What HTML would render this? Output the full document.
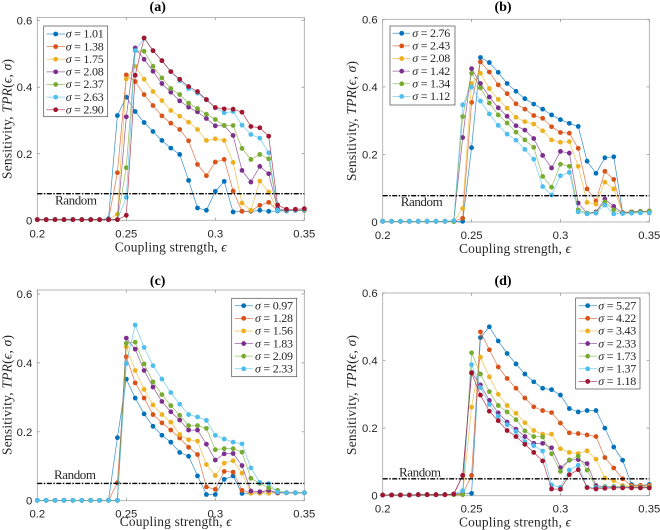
<!DOCTYPE html>
<html><head><meta charset="utf-8"><title>Sensitivity vs coupling strength</title>
<style>
html,body{margin:0;padding:0;background:#fff}
svg{display:block;filter:blur(0.35px)}
.tick{font:11.3px "Liberation Sans",sans-serif;fill:#262626}
.ser{font-family:"Liberation Serif",serif;fill:#262626}
</style></head>
<body>
<svg id="fig" xmlns="http://www.w3.org/2000/svg" width="660" height="530" viewBox="0 0 660 530"></svg>
<script>
const epsilon=[0.2,0.205,0.21,0.215,0.22,0.225,0.23,0.235,0.24,0.245,0.25,0.255,0.26,0.265,0.27,0.275,0.28,0.285,0.29,0.295,0.3,0.305,0.31,0.315,0.32,0.325,0.33,0.335,0.34,0.345,0.35];
const xTickValues=[0.2,0.25,0.3,0.35];
const xTickLabels=["0.2","0.25","0.3","0.35"];
const yTickValues=[0,0.2,0.4,0.6];
const yTickLabels=["0","0.2","0.4","0.6"];

const sigmaA=["1.01","1.38","1.75","2.08","2.37","2.63","2.90"];
const tprA1=[.002,.002,.002,.002,.002,.002,.002,.002,.005,.315,.37,.327,.294,.267,.24,.217,.198,.12,.037,.03,.087,.117,.025,.027,.027,.03,.027,.028,.028,.03,.03];
const tprA2=[.002,.002,.002,.002,.002,.002,.002,.002,.002,.143,.437,.417,.378,.345,.314,.292,.273,.239,.168,.134,.175,.183,.088,.027,.028,.045,.054,.03,.03,.03,.03];
const tprA3=[.002,.002,.002,.002,.002,.002,.002,.002,.002,.018,.425,.463,.424,.387,.36,.33,.313,.295,.273,.24,.245,.24,.174,.052,.03,.118,.085,.03,.03,.03,.03];
const tprA4=[.002,.002,.002,.002,.002,.002,.002,.002,.002,.002,.311,.518,.484,.448,.411,.385,.359,.34,.326,.306,.284,.285,.255,.15,.115,.162,.14,.035,.03,.03,.03];
const tprA5=[.002,.002,.002,.002,.002,.002,.002,.002,.002,.002,.158,.51,.508,.463,.428,.396,.378,.352,.336,.319,.303,.285,.285,.216,.183,.198,.185,.03,.03,.03,.03];
const tprA6=[.002,.002,.002,.002,.002,.002,.002,.002,.002,.002,.069,.51,.548,.51,.48,.447,.42,.396,.382,.362,.338,.323,.327,.286,.258,.247,.203,.03,.03,.03,.032];
const tprA7=[.002,.002,.002,.002,.002,.002,.002,.002,.002,.002,.015,.436,.548,.51,.48,.447,.424,.402,.387,.363,.339,.335,.334,.325,.282,.278,.253,.046,.033,.033,.035];

const sigmaB=["2.76","2.43","2.08","1.42","1.34","1.12"];
const tprB1=[.002,.002,.002,.002,.002,.002,.002,.002,.002,.002,.22,.487,.472,.443,.41,.387,.365,.349,.334,.317,.303,.292,.283,.18,.144,.19,.193,.028,.03,.031,.032];
const tprB2=[.002,.002,.002,.002,.002,.002,.002,.002,.002,.011,.354,.474,.444,.406,.38,.35,.334,.315,.307,.282,.265,.263,.218,.098,.062,.15,.126,.028,.03,.031,.032];
const tprB3=[.002,.002,.002,.002,.002,.002,.002,.002,.002,.04,.41,.44,.395,.363,.337,.31,.297,.29,.27,.243,.236,.238,.165,.058,.053,.118,.098,.028,.03,.031,.032];
const tprB4=[.002,.002,.002,.002,.002,.002,.002,.002,.003,.25,.454,.41,.37,.338,.313,.285,.272,.247,.197,.16,.209,.204,.056,.026,.03,.068,.046,.027,.029,.031,.032];
const tprB5=[.002,.002,.002,.002,.002,.002,.002,.002,.001,.312,.44,.397,.352,.317,.293,.266,.243,.221,.135,.103,.171,.165,.036,.026,.028,.06,.036,.026,.028,.03,.032];
const tprB6=[.002,.002,.002,.002,.002,.002,.002,.002,.004,.347,.4,.358,.32,.286,.26,.242,.215,.186,.105,.08,.137,.147,.03,.024,.026,.05,.024,.025,.026,.027,.027];

const sigmaC=["0.97","1.28","1.56","1.83","2.09","2.33"];
const tprC1=[.001,.001,.001,.001,.001,.001,.001,.001,.001,.183,.353,.298,.252,.216,.19,.17,.14,.129,.072,.018,.018,.062,.072,.021,.022,.022,.022,.023,.023,.023,.023];
const tprC2=[.001,.001,.001,.001,.001,.001,.001,.001,.001,.052,.418,.342,.298,.25,.226,.205,.182,.155,.134,.04,.033,.085,.083,.03,.022,.023,.03,.022,.023,.023,.023];
const tprC3=[.001,.001,.001,.001,.001,.001,.001,.001,.001,.001,.447,.378,.323,.278,.25,.228,.192,.177,.173,.105,.073,.109,.116,.08,.022,.022,.022,.022,.023,.023,.023];
const tprC4=[.001,.001,.001,.001,.001,.001,.001,.001,.001,.001,.472,.44,.378,.33,.288,.258,.234,.205,.205,.164,.118,.136,.137,.102,.028,.026,.03,.023,.023,.023,.023];
const tprC5=[.001,.001,.001,.001,.001,.001,.001,.001,.001,.001,.457,.46,.397,.345,.308,.276,.248,.218,.218,.21,.148,.151,.151,.141,.065,.05,.037,.03,.023,.023,.023];
const tprC6=[.001,.001,.001,.001,.001,.001,.001,.001,.001,.001,.398,.51,.445,.392,.353,.314,.28,.25,.243,.233,.19,.179,.17,.165,.095,.053,.05,.025,.023,.023,.023];

const sigmaD=["5.27","4.22","3.43","2.33","1.73","1.37","1.18"];
const tprD1=[.002,.002,.002,.002,.003,.003,.003,.003,.005,.007,.007,.468,.5,.458,.421,.39,.36,.337,.318,.314,.298,.258,.248,.252,.252,.2,.144,.105,.033,.03,.033];
const tprD2=[.002,.002,.002,.002,.003,.003,.003,.003,.004,.005,.06,.485,.432,.381,.347,.318,.289,.263,.252,.246,.215,.186,.184,.18,.175,.113,.082,.05,.03,.03,.03];
const tprD3=[.002,.002,.002,.002,.003,.003,.003,.003,.003,.003,.262,.41,.352,.3,.267,.244,.216,.193,.182,.182,.139,.128,.125,.133,.108,.052,.045,.03,.027,.027,.027];
const tprD4=[.002,.002,.002,.002,.003,.003,.003,.003,.005,.06,.365,.328,.282,.245,.218,.197,.175,.155,.155,.142,.083,.105,.107,.095,.03,.026,.026,.026,.025,.025,.025];
const tprD5=[.002,.002,.002,.002,.003,.003,.003,.003,.003,.003,.423,.36,.308,.267,.248,.225,.192,.175,.174,.124,.072,.106,.117,.076,.024,.027,.027,.026,.025,.025,.025];
const tprD6=[.002,.002,.002,.002,.003,.003,.003,.003,.005,.015,.388,.32,.27,.235,.21,.19,.16,.148,.132,.032,.025,.076,.09,.025,.024,.025,.025,.025,.024,.024,.024];
const tprD7=[.002,.002,.002,.002,.003,.003,.003,.003,.005,.06,.363,.298,.25,.222,.193,.175,.152,.128,.103,.02,.019,.062,.077,.024,.02,.022,.023,.023,.023,.023,.023];

const randomLevels=[0.08,0.078,0.05,0.05];
const panelTitles=["(a)","(b)","(c)","(d)"];
const colors=["#0072BD","#D95319","#EDB120","#7E2F8E","#77AC30","#4DBEEE","#A2142F"];

const panels=[
 {key:"a",title:panelTitles[0],rnd:randomLevels[0],sig:sigmaA,ser:[tprA1,tprA2,tprA3,tprA4,tprA5,tprA6,tprA7],
  x0:37.3,x1:304.3,y0:220.3,y6:20.7,top:17.6,
  leg:{x:43.7,y:26,w:64,h:90.7,e:34,mx:55.7,lx0:46.5,lx1:65,tx:65.7},
  rx:55,ry:204.7,xlx:170.7,xly:251.7,ylx:11.5,yly:119,tx:157.7,ty:11},
 {key:"b",title:panelTitles[1],rnd:randomLevels[1],sig:sigmaB,ser:[tprB1,tprB2,tprB3,tprB4,tprB5,tprB6],
  x0:382.7,x1:649.3,y0:222,y6:19.3,top:19.3,
  leg:{x:390,y:26,w:65,h:79,e:33.3,mx:401.7,lx0:392.5,lx1:410,tx:412.3},
  rx:400.7,ry:206,xlx:515,xly:253,ylx:356,yly:121,tx:503,ty:11},
 {key:"c",title:panelTitles[2],rnd:randomLevels[2],sig:sigmaC,ser:[tprC1,tprC2,tprC3,tprC4,tprC5,tprC6],
  x0:37.3,x1:304.3,y0:500.7,y6:294,top:290,
  leg:{x:231.7,y:298.3,w:65,h:78.4,e:305.7,mx:243.7,lx0:234.5,lx1:253,tx:255},
  rx:54,ry:479,xlx:175.7,xly:526,ylx:11.5,yly:395,tx:157.7,ty:285},
 {key:"d",title:panelTitles[3],rnd:randomLevels[3],sig:sigmaD,ser:[tprD1,tprD2,tprD3,tprD4,tprD5,tprD6,tprD7],
  x0:382.7,x1:649.3,y0:495.7,y6:293,top:293,
  leg:{x:575.7,y:298,w:64.3,h:91,e:305.7,mx:587.7,lx0:578.5,lx1:597,tx:598.3},
  rx:399,ry:476.7,xlx:515,xly:526.7,ylx:356,yly:395,tx:503,ty:285}
];

const NS="http://www.w3.org/2000/svg";
function mk(parent,tag,attrs,txt){
  const el=document.createElementNS(NS,tag);
  for(const k in attrs)el.setAttribute(k,attrs[k]);
  if(txt!==undefined)el.textContent=txt;
  parent.appendChild(el);
  return el;
}
function addSigmaLabel(g,x,y,val){
  const t=mk(g,"text",{x:x,y:y,class:"ser","font-size":"12","textLength":"38","lengthAdjust":"spacing"});
  mk(t,"tspan",{"font-style":"italic"},"σ");
  mk(t,"tspan",{}," = "+val);
  return t;
}
const fig=document.getElementById("fig");
panels.forEach(function(p){
  const sx=function(v){return p.x0+(v-0.2)/0.15*(p.x1-p.x0);};
  const sy=function(v){return p.y0-v/0.6*(p.y0-p.y6);};
  const g=mk(fig,"g",{});
  
  

  const title=mk(g,"text",{x:p.tx,y:p.ty,"text-anchor":"middle","font-size":"14","font-weight":"bold",class:"ser",style:"fill:#000"},p.title);
  
  

  const box=mk(g,"rect",{x:p.x0,y:p.top,width:p.x1-p.x0,height:p.y0-p.top,fill:"#fff",stroke:"#a6a6a6","stroke-width":"0.8"});
  
  

  xTickValues.forEach(function(v,i){
    const x=sx(v);
    const tk=mk(g,"path",{d:"M"+x+" "+p.y0+"v-2.7M"+x+" "+p.top+"v2.7",stroke:"#8a8a8a","stroke-width":"0.7",fill:"none"});
    
    
    const lb=mk(g,"text",{x:x,y:p.y0+17,"text-anchor":"middle",class:"tick"},xTickLabels[i]);
    
    
  });
  yTickValues.forEach(function(v,i){
    const y=sy(v);
    const tk=mk(g,"path",{d:"M"+p.x0+" "+y+"h2.7M"+p.x1+" "+y+"h-2.7",stroke:"#8a8a8a","stroke-width":"0.7",fill:"none"});
    
    
    const lb=mk(g,"text",{x:p.x0-5,y:y+4,"text-anchor":"end",class:"tick"},yTickLabels[i]);
    
    
  });

  const xl=mk(g,"text",{x:p.xlx,y:p.xly,"text-anchor":"middle",class:"ser","font-size":"13.4","textLength":"112","lengthAdjust":"spacing"});
  
  
  mk(xl,"tspan",{},"Coupling strength, ");
  mk(xl,"tspan",{"font-style":"italic"},"ϵ");

  const yl=mk(g,"text",{x:0,y:0,transform:"translate("+p.ylx+" "+p.yly+") rotate(-90)","text-anchor":"middle",class:"ser","font-size":"13.4","textLength":"120","lengthAdjust":"spacing"});
  
  
  mk(yl,"tspan",{},"Sensitivity, ");
  mk(yl,"tspan",{"font-style":"italic"},"TPR");
  mk(yl,"tspan",{},"(");
  mk(yl,"tspan",{"font-style":"italic"},"ϵ");
  mk(yl,"tspan",{},", ");
  mk(yl,"tspan",{"font-style":"italic"},"σ");
  mk(yl,"tspan",{},")");

  p.ser.forEach(function(vals,si){
    const sg=mk(g,"g",{});
    
    
    const pts=vals.map(function(v,i){return sx(epsilon[i]).toFixed(2)+","+sy(v).toFixed(2);}).join(" ");
    const ln=mk(sg,"polyline",{points:pts,fill:"none",stroke:colors[si],"stroke-width":"0.75","stroke-opacity":"0.75"});
    
    
    vals.forEach(function(v,i){
      const c=mk(sg,"circle",{cx:sx(epsilon[i]).toFixed(2),cy:sy(v).toFixed(2),r:"2.4",fill:colors[si]});
      
      
    });
  });

  const rl=mk(g,"line",{x1:p.x0,x2:p.x1,y1:sy(p.rnd),y2:sy(p.rnd),stroke:"#000","stroke-width":"1.4","stroke-dasharray":"5 1.5 1.5 1.5"});
  
  
  const rt=mk(g,"text",{x:p.rx,y:p.ry,class:"ser","font-size":"13","textLength":"42","lengthAdjust":"spacing"},"Random");
  
  

  const L=p.leg;
  const lg=mk(g,"g",{});
  
  
  mk(lg,"rect",{x:L.x,y:L.y,width:L.w,height:L.h,fill:"#fff",stroke:"#4d4d4d","stroke-width":"0.7"});
  p.sig.forEach(function(s,i){
    const y=L.e+i*12.62;
    const en=mk(lg,"g",{});
    
    
    mk(en,"line",{x1:L.lx0,x2:L.lx1,y1:y,y2:y,stroke:colors[i],"stroke-width":"0.75","stroke-opacity":"0.75"});
    mk(en,"circle",{cx:L.mx,cy:y,r:"2.4",fill:colors[i]});
    addSigmaLabel(en,L.tx,y+3.7,s);
  });
});
</script>
</body></html>
